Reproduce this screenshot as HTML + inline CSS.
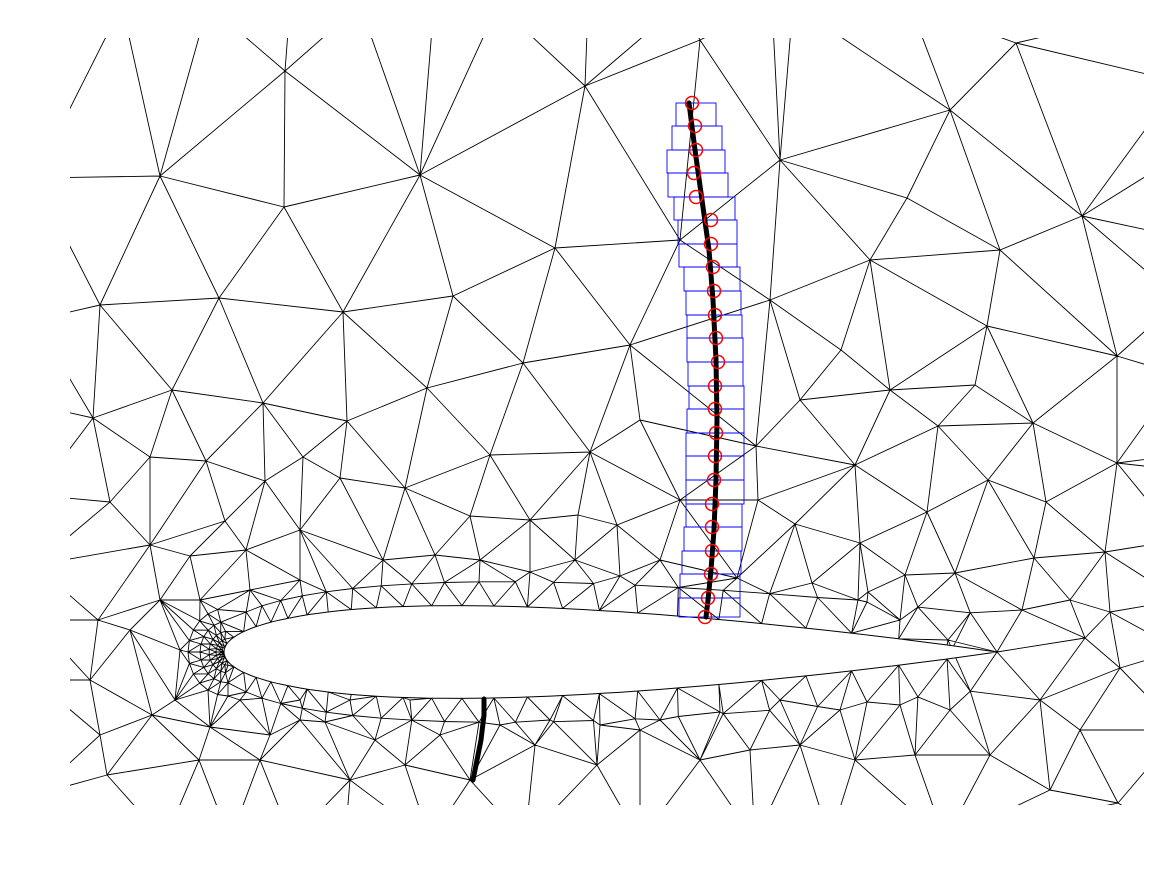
<!DOCTYPE html>
<html><head><meta charset="utf-8"><style>
html,body{margin:0;padding:0;background:#fff;}
svg{display:block;}
</style></head><body>
<svg id="chart" width="1167" height="875" viewBox="0 0 1167 875" xmlns="http://www.w3.org/2000/svg">
<defs><clipPath id="clip"><rect x="70" y="38" width="1074" height="767"/></clipPath></defs>
<rect x="0" y="0" width="1167" height="875" fill="#fff"/>
<g id="mesh" clip-path="url(#clip)"></g>
<path id="airfoil" fill="#fff" stroke="#000" stroke-width="1"/>
<g id="rects"></g>
<polyline id="curveTop" fill="none" stroke="#000" stroke-width="5" stroke-linecap="round" stroke-linejoin="round"/>
<polyline id="curveBot" fill="none" stroke="#000" stroke-width="5" stroke-linecap="round" stroke-linejoin="round"/>
<g id="circles"></g>
</svg>
<script>
const markerY=[103,126,150,173,197,220,244,267,291,315,338,362,386,409,433,456,480,504,527,551,574,598,617];
const markerX=[692,695,696,694,696,711,711,713,714,715,716,718,715,715,716,715,714,712,712,712,711,708,705];
const boxLeft=[676,672,667,668,674,678,679,684,686,687,687,688,689,687,686,686,686,686,684,682,680,679];
const boxRight=[716,722,725,728,735,737,737,740,741,742,743,743,744,744,744,744,744,742,742,741,740,740];
const boxTop=[103,126,150,173,197,220,244,267,291,315,338,362,386,409,433,456,480,504,527,551,574,598];
const boxBot=[126,150,173,197,220,244,267,291,315,338,362,386,409,433,456,480,504,527,551,574,598,617];
const curveTopX=[689,695,702,709,713,716,717,716,714,711,708,706];
const curveTopY=[103,150,200,250,300,360,420,480,530,570,600,617];
const curveBotX=[484,484,481,477,473];
const curveBotY=[699,715,740,760,780];
const nodes=[[285,71],[160,176],[420,175],[585,86],[284,207],[555,248],[343,312],[453,296],[219,298],[100,305],[630,345],[172,390],[263,403],[427,388],[523,363],[93,418],[150,457],[206,461],[303,457],[347,421],[405,488],[490,455],[590,452],[110,502],[225,521],[340,478],[265,481],[470,516],[530,520],[578,515],[617,525],[150,545],[190,556],[246,550],[300,530],[383,560],[435,555],[480,560],[530,572],[575,560],[620,576],[907,198],[1082,216],[987,326],[841,350],[1117,356],[1016,43],[793,38],[1144,155],[1144,237],[938,426],[1033,423],[1117,463],[855,465],[756,446],[988,480],[927,512],[1046,502],[795,524],[860,543],[737,578],[812,583],[758,500],[1105,552],[1034,558],[955,573],[905,575],[1144,540],[1144,455],[1144,375],[868,592],[1070,600],[1110,612],[1085,638],[1120,668],[1144,730],[1080,730],[1040,700],[1022,610],[948,640],[900,620],[858,600],[107,775],[152,715],[199,760],[260,760],[230,805],[300,720],[350,780],[405,765],[470,780],[535,745],[597,765],[640,730],[700,760],[750,750],[800,745],[855,760],[915,755],[990,755],[1050,790],[1118,803],[950,710],[900,705],[840,710],[780,700],[720,712],[660,720],[600,725],[550,720],[500,725],[440,735],[375,740],[325,722],[270,735],[210,727],[100,735],[90,680],[98,620],[70,565],[130,630],[160,600],[180,650],[175,700],[240,700],[300,700],[350,700],[410,700],[200,600],[250,590],[300,580],[700,40],[680,240],[640,420],[680,500],[660,560],[770,300],[780,160],[950,110],[870,260],[1000,250],[1144,300],[975,385],[890,390],[800,400],[1150,600],
[70,38],[122,38],[208,38],[290,38],[360,38],[434,38],[498,38],[588,38],[680,38],[772,38],[910,38],[1144,38],[70,178],[70,320],[70,405],[70,495],[70,620],[70,680],[70,795],[165,805],[292,805],[345,805],[430,805],[525,805],[640,805],[755,805],[830,805],[945,805],[1144,805],[1144,82],[1144,650],[1144,470]];
const LE=[224,652], TE=[997,652];
</script>
<script>
const NS='http://www.w3.org/2000/svg';
const chord=TE[0]-LE[0];
function yt(s){return 5*0.12*chord*(0.2969*Math.sqrt(s)-0.126*s-0.3516*s*s+0.2843*s*s*s-0.1036*s*s*s*s);}
const up=[],lo=[];
const NP=60;
for(let i=0;i<=NP;i++){const s=Math.pow(i/NP,2);up.push([LE[0]+s*chord,LE[1]-yt(s)]);lo.push([LE[0]+s*chord,LE[1]+yt(s)]);}
const poly=up.concat(lo.slice(1,-1).reverse());
document.getElementById('airfoil').setAttribute('d','M'+poly.map(p=>p[0].toFixed(1)+','+p[1].toFixed(1)).join('L')+'Z');
function inside(x,y){let c=false;for(let i=0,j=poly.length-1;i<poly.length;j=i++){const a=poly[i],b=poly[j];if(((a[1]>y)!=(b[1]>y))&&(x<(b[0]-a[0])*(y-a[1])/(b[1]-a[1])+a[0]))c=!c;}return c;}
// push boundary nodes outside the clipped view so no border lines appear
const pts=nodes.map(p=>{let x=p[0],y=p[1];if(x<=70)x=35;if(x>=1144)x=1180;if(y<=38)y=5;if(y>=805)y=840;return [x,y];});
for(let i=1;i<=26;i++){const s=Math.pow(i/26,1.7);pts.push([LE[0]+s*chord,LE[1]-yt(s)]);pts.push([LE[0]+s*chord,LE[1]+yt(s)]);}
pts.push(LE.slice());
const rings=[[6,10],[12,12],[19,12],[28,12],[40,12]];
rings.forEach(([r,n])=>{for(let k=0;k<n;k++){const a=Math.PI/2+Math.PI*(k+0.5*(r%2))/n;const x=LE[0]+4+r*Math.cos(a),y=LE[1]+r*1.1*Math.sin(a);if(!inside(x,y))pts.push([x,y]);}});
for(let i=2;i<=22;i++){const s=Math.pow((i+0.5)/23,1.6);const x=LE[0]+s*chord;const d=18+s*18;pts.push([x,LE[1]-yt(s)-d]);pts.push([x,LE[1]+yt(s)+d]);}
const P=pts;
function circ(a,b,c){const ax=a[0],ay=a[1],bx=b[0],by=b[1],cx=c[0],cy=c[1];const d=2*(ax*(by-cy)+bx*(cy-ay)+cx*(ay-by));if(Math.abs(d)<1e-9)return {x:0,y:0,r:1e18};const ux=((ax*ax+ay*ay)*(by-cy)+(bx*bx+by*by)*(cy-ay)+(cx*cx+cy*cy)*(ay-by))/d;const uy=((ax*ax+ay*ay)*(cx-bx)+(bx*bx+by*by)*(ax-cx)+(cx*cx+cy*cy)*(bx-ax))/d;return {x:ux,y:uy,r:(ax-ux)**2+(ay-uy)**2};}
const V=P.map(p=>p.slice());const n0=V.length;
V.push([-10000,-10000],[10000,-10000],[0,10000]);
let tris=[[n0,n0+1,n0+2]];tris[0].c=circ(V[n0],V[n0+1],V[n0+2]);
for(let i=0;i<n0;i++){const p=V[i];const bad=[],keep=[];
 tris.forEach(t=>{const dx=p[0]-t.c.x,dy=p[1]-t.c.y;(dx*dx+dy*dy<t.c.r?bad:keep).push(t);});
 const ec={};bad.forEach(t=>{for(let k=0;k<3;k++){const a=t[k],b=t[(k+1)%3];const key=a<b?a+'_'+b:b+'_'+a;ec[key]=(ec[key]||0)+1;}});
 Object.keys(ec).forEach(key=>{if(ec[key]==1){const [a,b]=key.split('_').map(Number);const t=[a,b,i];t.c=circ(V[a],V[b],V[i]);keep.push(t);}});
 tris=keep;}
const g=document.getElementById('mesh');const seen={};let d='';
tris.forEach(t=>{if(t[0]>=n0||t[1]>=n0||t[2]>=n0)return;
 const cx=(V[t[0]][0]+V[t[1]][0]+V[t[2]][0])/3,cy=(V[t[0]][1]+V[t[1]][1]+V[t[2]][1])/3;
 if(inside(cx,cy))return;
 for(let k=0;k<3;k++){const a=t[k],b=t[(k+1)%3];const key=a<b?a+'_'+b:b+'_'+a;if(seen[key])continue;seen[key]=1;
  const mx=(V[a][0]+V[b][0])/2,my=(V[a][1]+V[b][1])/2;if(inside(mx,my))continue;
  d+='M'+V[a][0].toFixed(1)+','+V[a][1].toFixed(1)+'L'+V[b][0].toFixed(1)+','+V[b][1].toFixed(1);}});
const mp=document.createElementNS(NS,'path');


mp.setAttribute('d',d);mp.setAttribute('stroke','#000');mp.setAttribute('stroke-width','0.9');mp.setAttribute('fill','none');g.appendChild(mp);
const rg=document.getElementById('rects');
boxTop.forEach((t,i)=>{const r=document.createElementNS(NS,'rect');
 
 
 r.setAttribute('x',boxLeft[i]);r.setAttribute('y',t);r.setAttribute('width',boxRight[i]-boxLeft[i]);r.setAttribute('height',boxBot[i]-t);
 r.setAttribute('fill','none');r.setAttribute('stroke','#0000ff');r.setAttribute('stroke-width','0.9');rg.appendChild(r);});
document.getElementById('curveTop').setAttribute('points',curveTopX.map((x,i)=>x+','+curveTopY[i]).join(' '));
document.getElementById('curveBot').setAttribute('points',curveBotX.map((x,i)=>x+','+curveBotY[i]).join(' '));
const cg=document.getElementById('circles');
markerX.forEach((x,i)=>{const c=document.createElementNS(NS,'circle');
 
 
 c.setAttribute('cx',x);c.setAttribute('cy',markerY[i]);c.setAttribute('r',6.5);c.setAttribute('fill','none');c.setAttribute('stroke','#ff0000');c.setAttribute('stroke-width','1.5');cg.appendChild(c);});
</script>
</body></html>
